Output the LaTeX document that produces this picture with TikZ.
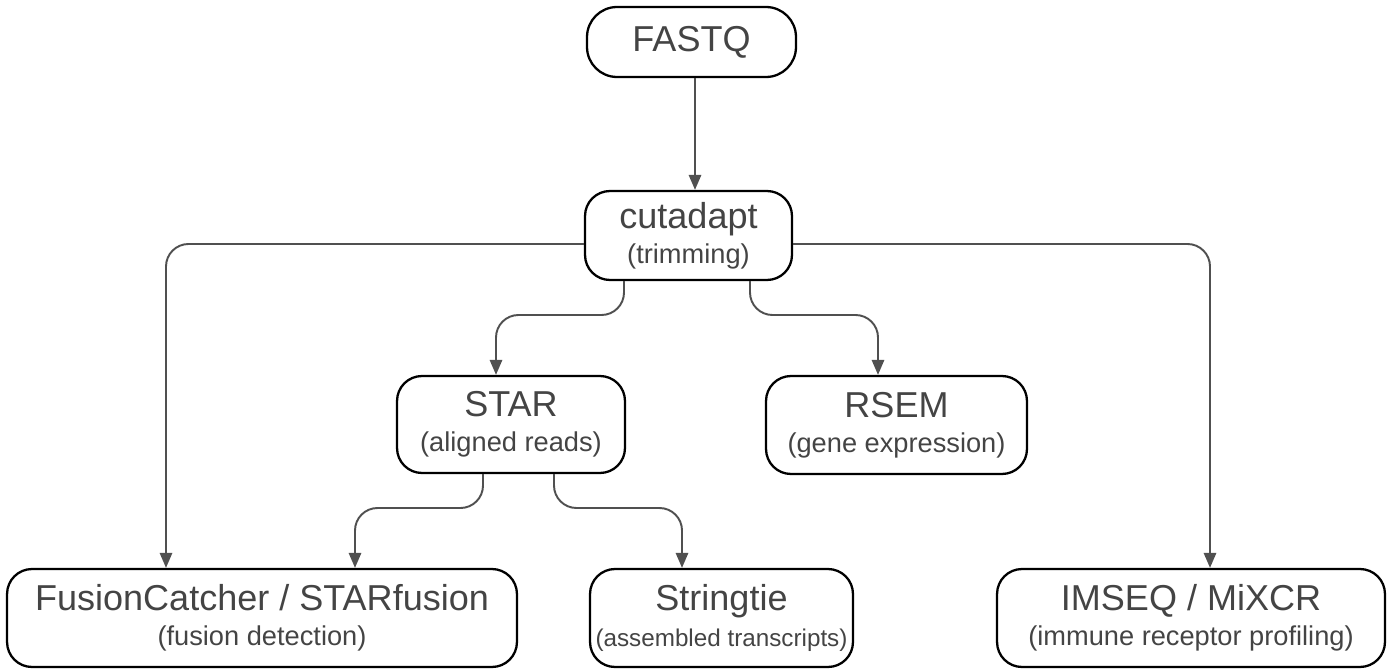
\documentclass[tikz,border=0pt]{standalone}
\usepackage{fontspec}
\setmainfont{Liberation Sans}
\usepackage{tikz}
\usetikzlibrary{positioning,arrows.meta,calc}
\usepackage{xcolor}
\definecolor{txtgray}{HTML}{444444}
\definecolor{linegray}{HTML}{505050}
\newcommand{\sublabel}[1]{{\fontsize{15.5}{18}\selectfont #1}}

\begin{document}
\begin{tikzpicture}[x=0.02cm,y=-0.02cm,
    box/.style={draw=black,line width=1.3pt,rounded corners=0.5cm,align=center,
      text=txtgray,inner sep=0pt,font=\fontsize{20.5}{20}\selectfont},
    link/.style={draw=linegray,line width=1.1pt,rounded corners=0.45cm,
      -{Triangle[width=7pt,length=8.5pt]}}]
      \useasboundingbox (0,0) rectangle (1389,669);

      \node[box,minimum width=4.18cm,minimum height=1.4cm,rounded corners=0.6cm] (fastq) at (691.5,42) {FASTQ};
      \node[box,minimum width=4.14cm,minimum height=1.78cm] (cut) at (688.5,235.5) {cutadapt\\\sublabel{(trimming)}};
      \node[box,minimum width=4.56cm,minimum height=1.94cm] (star) at (511,424.5) {STAR\\\sublabel{(aligned reads)}};
      \node[box,minimum width=5.22cm,minimum height=1.96cm] (rsem) at (896.5,425) {RSEM\\\sublabel{(gene expression)}};
      \node[box,minimum width=10.2cm,minimum height=1.96cm] (fusion) at (262,618) {FusionCatcher / STARfusion\\\sublabel{(fusion detection)}};
      \node[box,minimum width=5.26cm,minimum height=1.96cm] (tie) at (721.5,618) {Stringtie\\{\fontsize{13.8}{18}\selectfont (assembled transcripts)}};
      \node[box,minimum width=7.76cm,minimum height=1.96cm] (imseq) at (1191,618) {IMSEQ / MiXCR\\\sublabel{(immune receptor profiling)}};

      \draw[link] (fastq.south -| 695,0) -- (cut.north -| 695,0);
      \draw[link] (cut.west |- 0,244) -| (fusion.north -| 166,0);
      \draw[link] (cut.east |- 0,244) -| (imseq.north -| 1210,0);
      \draw[link] (cut.south -| 624,0) |- (560,315) -| (star.north -| 496,0);
      \draw[link] (cut.south -| 750,0) |- (810,315) -| (rsem.north -| 878,0);
      \draw[link] (star.south -| 483,0) |- (420,508) -| (fusion.north -| 355,0);
      \draw[link] (star.south -| 554,0) |- (620,508) -| (tie.north -| 682,0);

    \end{tikzpicture}
\end{document}
